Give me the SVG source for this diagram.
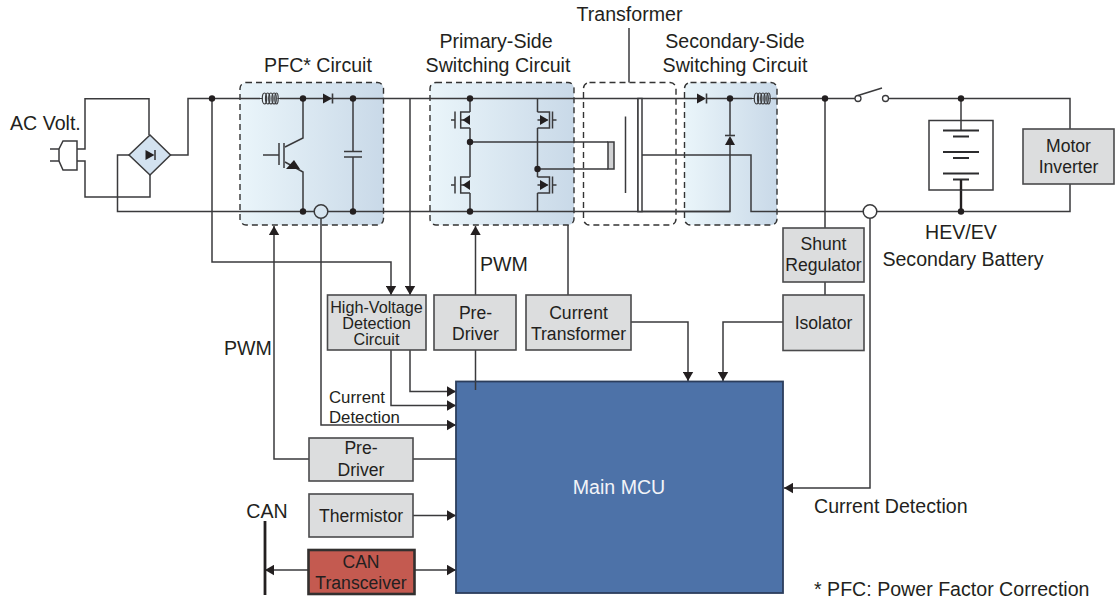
<svg xmlns="http://www.w3.org/2000/svg" xmlns:xlink="http://www.w3.org/1999/xlink" width="1118" height="604" viewBox="0 0 1118 604">
<style>
text{font-family:"Liberation Sans",Arial,sans-serif;fill:#231f20;font-size:19.6px;transform:translateY(.7px)}
.m{text-anchor:middle}
.b{font-size:17.6px}
.s{font-size:16.800px}
.h{font-size:16.200px}
.w{fill:none;stroke:#3a3a3c;stroke-width:1.5}
.a{marker-end:url(#arr)}
.region{stroke:#333;stroke-width:1.4;stroke-dasharray:6 4}
.box{fill:#dcddde;stroke:#4a4a4c;stroke-width:1.6}
.sym{fill:none;stroke:#3a3a3c;stroke-width:1.5}
.plate{fill:none;stroke:#2c2c2e;stroke-width:1.9}
.f{fill:#231f20;stroke:none}
</style>
<defs>
<linearGradient id="g" x1="0" x2="1" y1="0" y2="0"><stop offset="0" stop-color="#eaf5fa"/><stop offset="1" stop-color="#c9d9e8"/></linearGradient>
<marker id="arr" markerUnits="userSpaceOnUse" markerWidth="10" markerHeight="11" refX="9" refY="5.500" orient="auto"><path d="M0,0.300 L9,5.500 L0,10.700Z" fill="#231f20"/></marker>
<g id="coil" fill="none" stroke="#3a3a3c" stroke-width="1.200"><path d="M0,0H2.500M17.500,0H20"/><ellipse cx="4.500" cy="0" rx="2.200" ry="5.500"/><ellipse cx="7.700" cy="0" rx="2.200" ry="5.500"/><ellipse cx="10.900" cy="0" rx="2.200" ry="5.500"/><ellipse cx="14.100" cy="0" rx="2.200" ry="5.500"/><ellipse cx="16.500" cy="0" rx="1.700" ry="5.500"/></g>
<g id="diode"><path class="f" d="M0,-5V5L9,0Z"/><path class="sym" d="M9.500,-5V5" style="stroke-width:1.600"/></g>
<g id="mosL"><path class="sym" d="M0,-8H-9.300V8H0M-15,-8.500V8.500M-19,0H-15M-9,0H0"/><path class="f" d="M-7.500,0L0,-5V5Z"/></g>
<g id="mosR"><path class="sym" d="M0,-8H12V8H0M15,-8.500V8.500M19,0H15M0,0H10"/><path class="f" d="M11,0L2.500,-5V5Z"/></g>
<circle id="dot" r="3.200" fill="#231f20"/>
</defs>

<g id="regions">
<rect id="pfc-region" class="region" x="240" y="82.500" width="143.500" height="142.500" rx="6" fill="url(#g)"/>
<rect id="primary-region" class="region" x="430" y="82.500" width="144" height="142.500" rx="6" fill="url(#g)"/>
<rect id="transformer-region" class="region" x="583.500" y="82.500" width="92.500" height="142.500" rx="6" fill="#fff"/>
<rect id="secondary-region" class="region" x="684.500" y="82.500" width="92.500" height="142.500" rx="6" fill="url(#g)"/>
</g>

<g id="connectors">
<path class="w" d="M77,149H85V98.700H149V135M77,161H85V197H150V175M129,155H117.500V211.500H314M328,211.500H730M170,155H188V98.500H260M280,98.500H697M706,98.500H752M772,98.500H855M888.500,98.500H1070V129M1070,184V211.500H877M863,211.500H751V155H642"/>
<path class="w" d="M470,98.500V112M470,128V177M470,193V211.500M537.500,98.500V112M537.500,128V177M537.500,193V211.500"/>
<path class="w" d="M470,142H608M537.500,169H608"/>
<path class="w" d="M638,98.500V211.500H730V145M730,135V98.500"/>
<path class="w" d="M303,98.500V138L285,147M285,162L303,172V211.500M353,98.500V151M353,157V211.500"/>
<path class="w" d="M629,28V82.500"/>
<path class="w" d="M825,98.500V228M825,282V295"/>
<path class="w" d="M961,98.500V130"/>
<path class="w" d="M961,180V211.500" style="stroke-width:2.400;stroke:#231f20"/>
<path class="w a" d="M212,98.500V262H391V295"/>
<path class="w a" d="M410,98.500V295"/>
<path class="w a" d="M391,350V405.500H456"/>
<path class="w a" d="M410,350V391.500H456"/>
<path class="w a" d="M321,218.500V425H456"/>
<path class="w a" d="M309,459H274V226"/>
<path class="w" d="M413,459H456"/>
<path class="w a" d="M413,515.500H456"/>
<path class="w a" d="M415,570H456"/>
<path class="w a" d="M308,570H265"/>
<path class="w a" d="M475.500,295V226"/>
<path class="w" d="M475.500,350V390"/>
<path class="w" d="M568,225V295"/>
<path class="w a" d="M631,322H688V381"/>
<path class="w a" d="M783,322H723V381"/>
<path class="w a" d="M870,218.500V488H784"/>
<path class="w" d="M265,521V595" style="stroke-width:2.800;stroke:#231f20"/>
</g>

<g id="plug"><path class="sym" d="M50,149H59M50,161H59M77,141H63L59,149V161L63,170H77Z"/></g>
<g id="bridge"><path d="M150,135L170.500,155L150,175L129,155Z" fill="#d3e2f0" stroke="#3a3a3c" stroke-width="1.500"/><use xlink:href="#diode" href="#diode" x="145.500" y="155"/></g>

<g id="pfc-symbols">
<use xlink:href="#coil" href="#coil" x="260" y="98.500"/>
<use xlink:href="#diode" href="#diode" x="323" y="98.500"/>
<path class="sym" d="M263,155H279M279,143V165M284,143V168M344,151.500H362M344,157H362"/>
<path class="f" d="M286,169L294,160L300,169Z"/>
<use xlink:href="#dot" href="#dot" x="212" y="98.500"/>
<use xlink:href="#dot" href="#dot" x="303" y="98.500"/>
<use xlink:href="#dot" href="#dot" x="353" y="98.500"/>
<use xlink:href="#dot" href="#dot" x="303" y="211.500"/>
<use xlink:href="#dot" href="#dot" x="353" y="211.500"/>
<circle cx="321" cy="211.500" r="6.800" fill="none" stroke="#3a3a3c" stroke-width="1.500"/>
</g>

<g id="primary-symbols">
<use xlink:href="#mosL" href="#mosL" x="470" y="120"/>
<use xlink:href="#mosL" href="#mosL" x="470" y="185"/>
<use xlink:href="#mosR" href="#mosR" x="537.500" y="120"/>
<use xlink:href="#mosR" href="#mosR" x="537.500" y="185"/>
<use xlink:href="#dot" href="#dot" x="470" y="98.500"/>
<use xlink:href="#dot" href="#dot" x="470" y="142"/>
<use xlink:href="#dot" href="#dot" x="470" y="211.500"/>
<use xlink:href="#dot" href="#dot" x="537.500" y="169"/>
</g>

<g id="transformer">
<rect x="608" y="142" width="6" height="27" fill="#d0d1d3" stroke="#3a3a3c" stroke-width="1.500"/>
<path class="sym" d="M625.500,116.500V193"/>
<rect x="638" y="98.500" width="4" height="113" fill="#fff" stroke="#3a3a3c" stroke-width="1.500"/>
</g>

<g id="secondary-symbols">
<use xlink:href="#diode" href="#diode" x="697" y="98.500"/>
<use xlink:href="#coil" href="#coil" x="752" y="98.500"/>
<path class="f" d="M725,145H735L730,136Z"/>
<path class="sym" d="M725,135.500H735" style="stroke-width:1.600"/>
<use xlink:href="#dot" href="#dot" x="730" y="98.500"/>
</g>

<g id="switch">
<circle cx="858" cy="98.500" r="3" fill="#fff" stroke="#3a3a3c" stroke-width="1.300"/>
<circle cx="885.500" cy="98.500" r="3" fill="#fff" stroke="#3a3a3c" stroke-width="1.300"/>
<path class="sym" d="M858,95.500L882,88"/>
<use xlink:href="#dot" href="#dot" x="825" y="98.500"/>
</g>

<g id="battery">
<rect x="929" y="120.500" width="64" height="69.500" fill="#fff" stroke="#3a3a3c" stroke-width="1.500"/>
<path class="sym" d="M961,120.500V130"/>
<path class="plate" d="M943,130.500H979M953,136.500H969M943,152H979M953,158H969M943,173.500H979M953,179.500H969"/>
<path d="M961,180V190" stroke="#231f20" stroke-width="2.400"/>
<use xlink:href="#dot" href="#dot" x="961" y="98.500"/>
<use xlink:href="#dot" href="#dot" x="961" y="211.500"/>
<circle cx="870" cy="211.500" r="6.800" fill="none" stroke="#3a3a3c" stroke-width="1.500"/>
</g>

<g id="motor-inverter"><rect class="box" x="1023" y="129" width="91" height="55"/><text class="m b" x="1068.500" y="151">Motor</text><text class="m b" x="1068.500" y="172">Inverter</text></g>
<g id="shunt-regulator"><rect class="box" x="783" y="228" width="81" height="54"/><text class="m b" x="823.500" y="249">Shunt</text><text class="m b" x="823.500" y="270">Regulator</text></g>
<g id="isolator"><rect class="box" x="783" y="295" width="81" height="55.500"/><text class="m b" x="823.500" y="328">Isolator</text></g>
<g id="hv-detection"><rect class="box" x="327.500" y="295" width="98.500" height="55"/><text class="m h" x="376.500" y="312">High-Voltage</text><text class="m h" x="376.500" y="328">Detection</text><text class="m h" x="376.500" y="344">Circuit</text></g>
<g id="pre-driver-primary"><rect class="box" x="434" y="295" width="82" height="55"/><text class="m b" x="475.500" y="318">Pre-</text><text class="m b" x="475.500" y="339">Driver</text></g>
<g id="current-transformer"><rect class="box" x="526" y="295" width="105" height="55"/><text class="m b" x="578.500" y="318">Current</text><text class="m b" x="578.500" y="339">Transformer</text></g>
<g id="main-mcu"><rect x="456" y="381.500" width="327" height="211.500" fill="#4d72a8" stroke="#2c3e5c" stroke-width="1.800"/><text class="m" style="fill:#f2f4f8" x="619" y="493">Main MCU</text></g>
<path class="w" d="M475.500,381.500V390"/>
<g id="pre-driver-pfc"><rect class="box" x="309" y="438" width="104" height="43"/><text class="m b" x="361" y="453.500">Pre-</text><text class="m b" x="361" y="475">Driver</text></g>
<g id="thermistor"><rect class="box" x="309" y="494" width="104" height="43"/><text class="m b" x="361" y="521">Thermistor</text></g>
<g id="can-transceiver"><rect x="308.500" y="550" width="106" height="44" fill="#c45a50" stroke="#33302f" stroke-width="2.600"/><text class="m b" x="361" y="567">CAN</text><text class="m b" x="361" y="588">Transceiver</text></g>

<g id="labels">
<text x="10" y="129">AC Volt.</text>
<text class="m" x="318" y="71">PFC* Circuit</text>
<text class="m" x="496" y="47">Primary-Side</text>
<text class="m" x="498" y="71">Switching Circuit</text>
<text class="m" x="629.500" y="20">Transformer</text>
<text class="m" x="735" y="47">Secondary-Side</text>
<text class="m" x="735" y="71">Switching Circuit</text>
<text class="m" x="961" y="238">HEV/EV</text>
<text class="m" x="963" y="265">Secondary Battery</text>
<text x="480" y="270">PWM</text>
<text x="224" y="354">PWM</text>
<text class="s" x="329" y="402">Current</text>
<text class="s" x="329" y="422">Detection</text>
<text class="m" x="267" y="517">CAN</text>
<text x="814" y="512">Current Detection</text>
<text x="814" y="595">* PFC: Power Factor Correction</text>
</g>
</svg>
